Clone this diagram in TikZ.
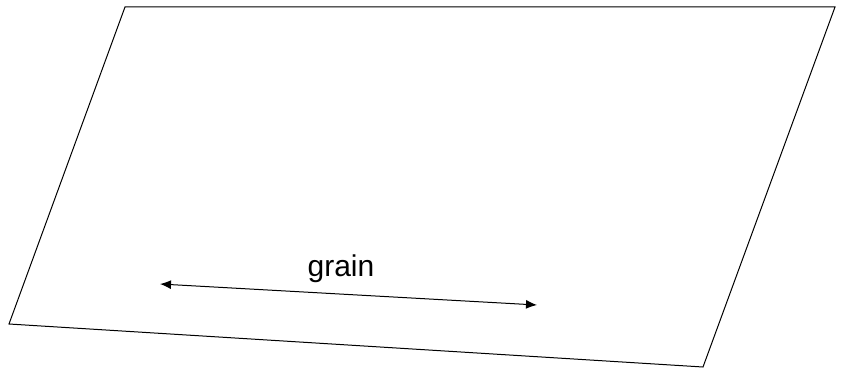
\documentclass[tikz,border=0pt]{standalone}
\usepackage{fontspec}
\setmainfont{Liberation Sans}
\usetikzlibrary{arrows.meta}

\begin{document}
\begin{tikzpicture}[x=1pt,y=-1pt,line width=1pt]
\tikzset{
% sheet outline and the grain direction arrow
sheet/.style={draw,line join=miter},
grain arrow/.style={draw,{Latex[length=11pt,width=9pt]}-{Latex[length=11pt,width=9pt]}},
grain label/.style={anchor=base,inner sep=0pt,font=\fontsize{30}{36}\selectfont}
}
\useasboundingbox (0,0) rectangle (843,369);

% corners of the sheet
\coordinate (tl) at (125,7);
\coordinate (tr) at (835,7);
\coordinate (br) at (703,367);
\coordinate (bl) at (9,324);
\draw[sheet] (tl) -- (tr) -- (br) -- (bl) -- cycle;

% grain direction
\coordinate (a) at (160,284);
\coordinate (b) at (537,305);
\draw[grain arrow] (a) -- (b);
\node(grain)[grain label] at (341,276) {grain};
\end{tikzpicture}
\end{document}
